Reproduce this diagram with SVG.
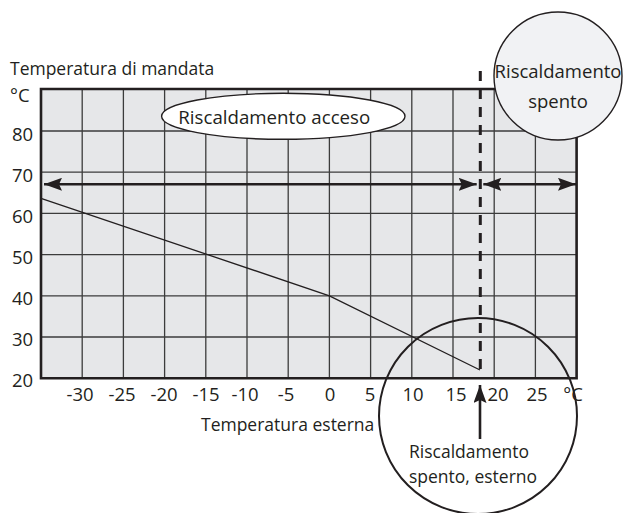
<svg xmlns="http://www.w3.org/2000/svg" width="624" height="513" viewBox="0 0 624 513">
<style>
text{font-family:"Open Sans","Noto Sans","Liberation Sans",sans-serif;fill:#231f20;font-size:17.5px}
.n{font-size:18.5px}
.g{stroke:#3c3c3c;stroke-width:1.3;fill:none}
.b{stroke:#231f20;stroke-width:2.6;fill:none}
.c{fill:none;stroke:#231f20;stroke-width:1.3}
.ar{stroke:#231f20;stroke-width:2.6;fill:none}
.m{text-anchor:middle}
</style>
<defs>
<marker id="ah" viewBox="0 0 18 13" refX="18" refY="6.5" markerWidth="18" markerHeight="13" orient="auto-start-reverse" markerUnits="userSpaceOnUse">
<path d="M0,0 L18,6.5 L0,13 L3,6.5 z" fill="#231f20"/>
</marker>
</defs>
<rect width="624" height="513" fill="#fff"/>
<g id="chart">
<rect x="41" y="89" width="535.6" height="289.2" fill="#e6e7e9"/>
<path class="g" d="M82.2,89V378M123.4,89V378M164.6,89V378M205.8,89V378M247,89V378M288.2,89V378M329.4,89V378M370.6,89V378M411.8,89V378M453,89V378M494.2,89V378M535.4,89V378"/>
<path class="g" d="M41,131H576.6M41,172.2H576.6M41,213.4H576.6M41,254.6H576.6M41,295.8H576.6M41,337H576.6"/>
<path class="b" d="M41,89H576.6V378.2H41Z"/>
<path class="c" d="M41,198.3L329.4,295.8L480,370"/>
</g>
<g id="yaxis">
<text x="10" y="75">Temperatura di mandata</text>
<text x="10" y="102" class="n">°C</text>
<text x="12" y="140.5" class="n">80</text>
<text x="12" y="181.7" class="n">70</text>
<text x="12" y="222.5" class="n">60</text>
<text x="12" y="263.8" class="n">50</text>
<text x="12" y="305" class="n">40</text>
<text x="12" y="346.3" class="n">30</text>
<text x="12" y="387.3" class="n">20</text>
</g>
<g id="xaxis">
<text x="80" y="401" class="m n">-30</text>
<text x="122" y="401" class="m n">-25</text>
<text x="164" y="401" class="m n">-20</text>
<text x="206" y="401" class="m n">-15</text>
<text x="245" y="401" class="m n">-10</text>
<text x="286" y="401" class="m n">-5</text>
<text x="330" y="401" class="m n">0</text>
<text x="370" y="401" class="m n">5</text>
<text x="413" y="401" class="m n">10</text>
<text x="456" y="401" class="m n">15</text>
<text x="498" y="401" class="m n">20</text>
<text x="537" y="401" class="m n">25</text>
<text x="573" y="401" class="m n">°C</text>
<text x="201" y="431">Temperatura esterna</text>
</g>
<g id="connectors">
<line x1="480.3" y1="71" x2="480.3" y2="378" stroke="#231f20" stroke-width="3" stroke-dasharray="10 8"/>
<line class="ar" x1="44" y1="184.3" x2="476.7" y2="184.3" marker-start="url(#ah)" marker-end="url(#ah)"/>
<line class="ar" x1="483.3" y1="184.3" x2="576" y2="184.3" marker-start="url(#ah)" marker-end="url(#ah)"/>
<line class="ar" x1="480" y1="439" x2="480" y2="385" marker-end="url(#ah)"/>
</g>
<g id="acceso">
<ellipse cx="283.3" cy="116.3" rx="121.7" ry="23" fill="#fff" stroke="#231f20" stroke-width="1.4"/>
<text x="178.3" y="124" style="font-size:18.7px">Riscaldamento acceso</text>
</g>
<g id="spento">
<circle cx="558" cy="76" r="64" fill="#f1f2f4" stroke="#231f20" stroke-width="1.4"/>
<text x="558" y="78" class="m" style="font-size:18.5px">Riscaldamento</text>
<text x="558" y="108" class="m" style="font-size:18.5px">spento</text>
</g>
<g id="spento-esterno">
<ellipse cx="478" cy="416" rx="99" ry="98" fill="none" stroke="#231f20" stroke-width="2"/>
<text x="409" y="458">Riscaldamento</text>
<text x="409" y="482.7">spento, esterno</text>
</g>
</svg>
